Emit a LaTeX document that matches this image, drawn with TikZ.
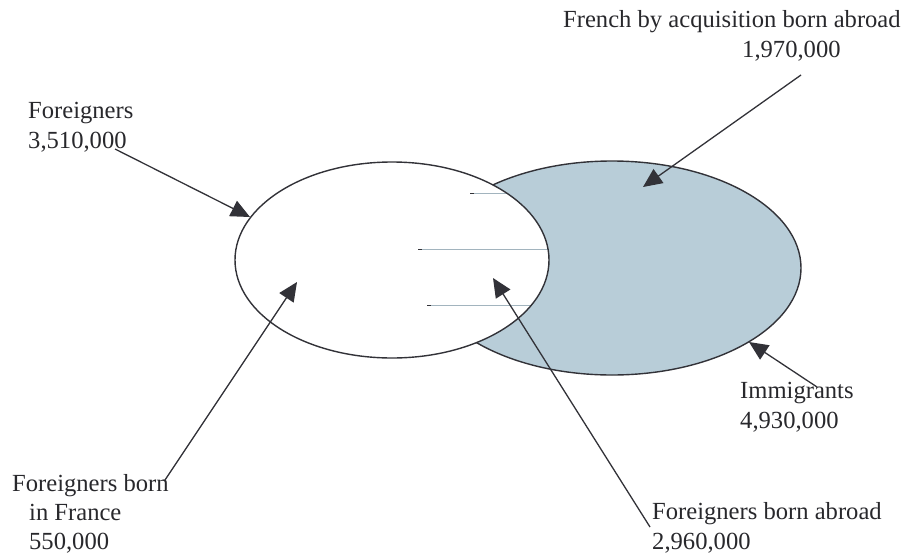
\documentclass[tikz,border=0pt]{standalone}
\usepackage{fontspec}
\setmainfont{Liberation Serif}
\usetikzlibrary{arrows.meta}
\definecolor{imm}{RGB}{184,205,216}
\definecolor{ink}{RGB}{50,50,56}
\definecolor{txt}{RGB}{40,40,44}
\begin{document}
\begin{tikzpicture}[x=1pt,y=-1pt,
  outline/.style={draw=ink,line width=1.4pt},
  pointer/.style={draw=ink,line width=1.3pt,-{Triangle[length=19pt,width=17pt]}},
  guide/.style={draw=imm!88!black,line width=0.8pt},
  tick/.style={draw=ink,line width=0.8pt},
  lbl/.style={inner sep=0pt,anchor=base west,text=txt,font=\fontsize{24.6}{30.5}\selectfont}]
\useasboundingbox (0,0) rectangle (908,555);
% ellipses
\draw[outline,fill=imm] (612,268) ellipse [x radius=189,y radius=107];
\fill[white] (392,260) ellipse [x radius=157,y radius=98];
\begin{scope}
  \clip (392,260) ellipse [x radius=157,y radius=98];
  \draw[guide] (471,193) -- (560,193);
  \draw[guide] (419,249) -- (560,249);
  \draw[guide] (428,305) -- (560,305);
\end{scope}
\draw[tick] (470,193) -- (474,193);
\draw[tick] (418,249) -- (422,249);
\draw[tick] (427,305) -- (431,305);
\draw[outline] (392,260) ellipse [x radius=157,y radius=98];
% labels
\node[lbl] (for) at (28,118) {\begin{tabular}[t]{@{}l@{}}Foreigners\\3,510,000\end{tabular}};
\node[lbl] (fra) at (563,27) {\begin{tabular}[t]{@{}l@{}}French by acquisition born abroad\\\hspace*{179pt}1,970,000\end{tabular}};
\node[lbl] (imm) at (740,398) {\begin{tabular}[t]{@{}l@{}}Immigrants\\4,930,000\end{tabular}};
\node[lbl,font=\fontsize{24.6}{29}\selectfont] (fbf) at (12,491) {\begin{tabular}[t]{@{}l@{}}Foreigners born\\\hspace*{17pt}in France\\\hspace*{17pt}550,000\end{tabular}};
\node[lbl] (fba) at (652,519) {\begin{tabular}[t]{@{}l@{}}Foreigners born abroad\\2,960,000\end{tabular}};
% arrow ends
\coordinate (s1) at (115,149);  \coordinate (t1) at (250,217);
\coordinate (s2) at (801,75);   \coordinate (t2) at (643,187);
\coordinate (s3) at (817,387);  \coordinate (t3) at (749,342);
\coordinate (s4) at (165,480);  \coordinate (t4) at (297,282);
\coordinate (s5) at (650,527);  \coordinate (t5) at (493,278);
\draw[pointer] (s1) -- (t1);
\draw[pointer] (s2) -- (t2);
\draw[pointer] (s3) -- (t3);
\draw[pointer] (s4) -- (t4);
\draw[pointer] (s5) -- (t5);
\end{tikzpicture}
\end{document}
